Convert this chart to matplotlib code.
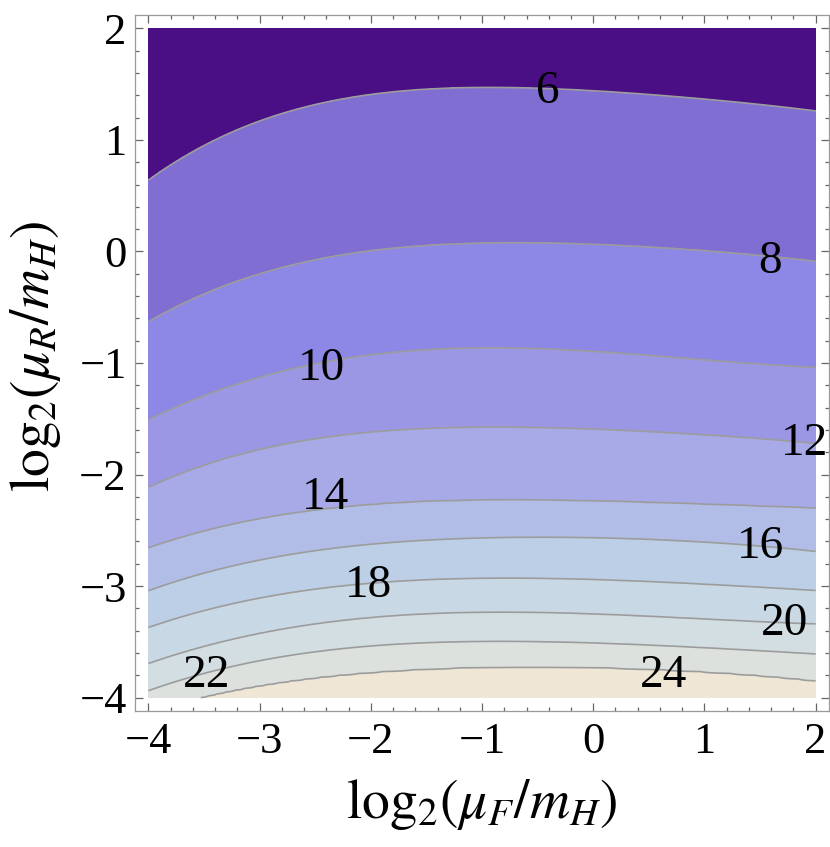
import numpy as np
import matplotlib
matplotlib.use("Agg")
import matplotlib.pyplot as plt
from matplotlib.ticker import MultipleLocator

x_pts = [-4.0, -3.6, -2.9, -2.1, -0.9, -0.1, 0.7, 2.0]

levels = [6, 8, 10, 12, 14, 16, 18, 20, 22, 24]

# y = log2(muR/mH) of each contour line at x_pts
y_6 = [0.64, 0.89, 1.21, 1.39, 1.47, 1.45, 1.39, 1.26]
y_8 = [-0.63, -0.43, -0.17, -0.01, 0.08, 0.06, 0.03, -0.09]
y_10 = [-1.51, -1.33, -1.11, -0.93, -0.875, -0.885, -0.95, -1.04]
y_12 = [-2.12, -1.94, -1.76, -1.63, -1.575, -1.585, -1.63, -1.72]
y_14 = [-2.66, -2.53, -2.38, -2.28, -2.23, -2.23, -2.26, -2.30]
y_16 = [-3.04, -2.92, -2.74, -2.64, -2.565, -2.565, -2.59, -2.69]
y_18 = [-3.37, -3.25, -3.09, -2.98, -2.935, -2.935, -2.97, -3.04]
y_20 = [-3.69, -3.58, -3.40, -3.29, -3.24, -3.245, -3.28, -3.34]
y_22 = [-3.93, -3.83, -3.64, -3.545, -3.50, -3.51, -3.535, -3.61]
y_24 = [-4.12, -4.03, -3.87, -3.78, -3.73, -3.73, -3.75, -3.85]
y_lines = [y_6, y_8, y_10, y_12, y_14, y_16, y_18, y_20, y_22, y_24]

fill_colors = ["#4b0f85", "#806ed2", "#8d87e6", "#9b97e5", "#a7aae6",
               "#b1bde6", "#bccfe7", "#c8d8e4", "#d2dee2", "#dce1de", "#efe6d6"]

plt.rcParams["font.family"] = ["Liberation Serif", "DejaVu Serif"]
plt.rcParams["mathtext.fontset"] = "stix"

# build a field on a grid whose contours follow the read lines
xg = np.linspace(-4, 2, 361)
yg = np.linspace(-4, 2, 361)
curves = [np.polyval(np.polyfit(x_pts, yc, 4), xg) for yc in y_lines]
zs = np.array([4] + levels + [26])[::-1]
Z = np.empty((len(yg), len(xg)))
for j in range(len(xg)):
    ys = np.array([2.6] + [c[j] for c in curves] + [-4.6])[::-1]
    Z[:, j] = np.interp(yg, ys, zs)

fig = plt.figure(figsize=(8.3, 8.47), dpi=100)
ax = fig.add_axes([0.1627, 0.1606, 0.8361, 0.8217])

ax.contourf(xg, yg, Z, levels=[0] + levels + [30], colors=fill_colors)
ax.contour(xg, yg, Z, levels=levels, colors="#9c9c9c", linewidths=1.2)

label_pos = [(-0.41, 1.43), (1.59, -0.09), (-2.44, -1.05), (1.90, -1.72),
             (-2.41, -2.21), (1.50, -2.65), (-2.02, -3.0), (1.72, -3.34),
             (-3.48, -3.80), (0.63, -3.80)]
for lev, (lx, ly) in zip(levels, label_pos):
    ax.text(lx, ly, str(lev), fontsize=34, ha="center", va="center", color="black")

ax.set_xlim(-4.12, 2.12)
ax.set_ylim(-4.12, 2.12)
ax.xaxis.set_major_locator(MultipleLocator(1))
ax.yaxis.set_major_locator(MultipleLocator(1))
ax.xaxis.set_minor_locator(MultipleLocator(0.2))
ax.yaxis.set_minor_locator(MultipleLocator(0.2))
ax.tick_params(which="both", direction="in", top=True, right=True, color="#666666",
               labelsize=32, width=0.9)
ax.tick_params(which="major", length=6, pad=8)
ax.tick_params(which="minor", length=3)
ax.tick_params(axis="y", which="major", pad=6)
for s in ax.spines.values():
    s.set_color("#999999")
    s.set_linewidth(0.9)

ax.set_xlabel(r"$\mathrm{log}_2(\mu_F/m_H)$", fontsize=40)
ax.set_ylabel(r"$\mathrm{log}_2(\mu_R/m_H)$", fontsize=40)
ax.xaxis.set_label_coords(0.5, -0.135)
ax.yaxis.set_label_coords(-0.143, 0.51)
ax.xaxis.label.set_va("center")
ax.yaxis.label.set_va("center")

fig.savefig("out.png", dpi=100)
